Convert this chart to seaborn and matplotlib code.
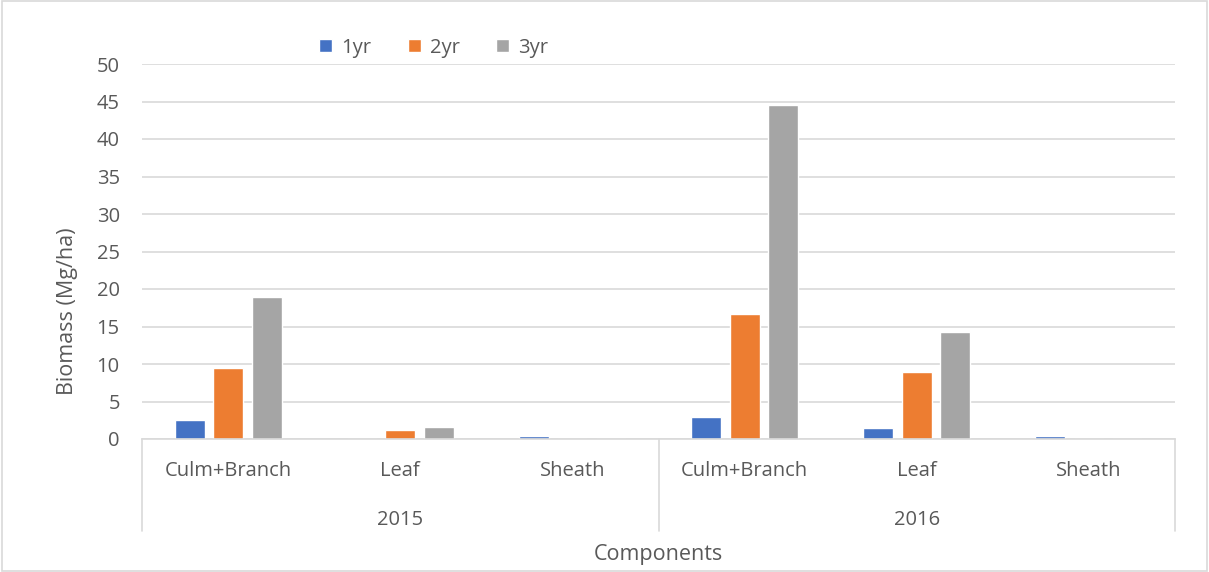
import numpy as np
import pandas as pd
import matplotlib
matplotlib.use('Agg')
import matplotlib.pyplot as plt
import seaborn as sns
from matplotlib.patches import Rectangle

# Data
years = ['2015', '2015', '2015', '2016', '2016', '2016']
components = ['Culm+Branch', 'Leaf', 'Sheath', 'Culm+Branch', 'Leaf', 'Sheath']
yr1 = [2.5, 0.0, 0.35, 2.9, 1.5, 0.4]
yr2 = [9.5, 1.2, 0.0, 16.7, 8.9, 0.0]
yr3 = [18.9, 1.6, 0.0, 44.5, 14.3, 0.0]
ages = ['1yr', '2yr', '3yr']
colors = ['#4472C4', '#ED7D31', '#A5A5A5']

# Long table for seaborn
keys = [y + '|' + c for y, c in zip(years, components)]
df = pd.DataFrame({'key': keys * 3,
                   'age': np.repeat(ages, len(keys)),
                   'Biomass': yr1 + yr2 + yr3})

sns.set_style('white')
plt.rcParams['font.family'] = ['Open Sans', 'DejaVu Sans']
txt = '#595959'
grid = '#D9D9D9'
fs = 14.5

fig = plt.figure(figsize=(12.09, 5.72), dpi=100)
ax = fig.add_axes([142 / 1209, 133 / 572, 1033 / 1209, 375 / 572])

sns.barplot(data=df, x='key', y='Biomass', hue='age', order=keys, hue_order=ages,
            palette=colors, width=0.67, gap=0.22, saturation=1, ax=ax)

ax.set_ylim(0, 50)
ax.set_yticks(range(0, 51, 5))
ax.set_xlim(-0.5, len(keys) - 0.5)
ax.yaxis.grid(True, color=grid, linewidth=1.2)
ax.set_axisbelow(True)
for s in ['top', 'right', 'left']:
    ax.spines[s].set_visible(False)
ax.spines['bottom'].set_color(grid)
ax.spines['bottom'].set_linewidth(1.2)

ax.set_xticks(range(len(keys)))
ax.set_xticklabels(components)
ax.tick_params(axis='x', length=0, pad=16, labelsize=fs, labelcolor=txt)
ax.tick_params(axis='y', length=0, pad=16, labelsize=fs, labelcolor=txt)

ax.set_ylabel('Biomass (Mg/ha)', fontsize=15.5, color=txt)
ax.yaxis.set_label_coords(-0.062, 0.34)
ax.set_xlabel('Components', fontsize=15.5, color=txt)
ax.xaxis.set_label_coords(0.5, -0.28)

# Multi-level category axis: year labels and separators
trans = ax.get_xaxis_transform()
for x in [-0.5, 2.5, 5.5]:
    ax.plot([x, x], [0, -0.245], transform=trans, color=grid, lw=1.2, clip_on=False)
for i, yr in enumerate(['2015', '2016']):
    ax.text(1 + 3 * i, -0.216, yr, transform=trans, ha='center', va='center',
            fontsize=fs, color=txt)

# Legend at top
leg = ax.legend(loc='lower left', bbox_to_anchor=(0.16, 0.985), ncol=3, frameon=False,
                fontsize=fs, handlelength=0.65, handleheight=0.65, columnspacing=1.8,
                handletextpad=0.45, borderaxespad=0.2)
for t in leg.get_texts():
    t.set_color(txt)

# Outer chart border
fig.patches.append(Rectangle((0.002, 0.002), 0.996, 0.996, transform=fig.transFigure,
                             fill=False, edgecolor=grid, linewidth=1.2))

fig.savefig('out.png', dpi=100, facecolor='white')
